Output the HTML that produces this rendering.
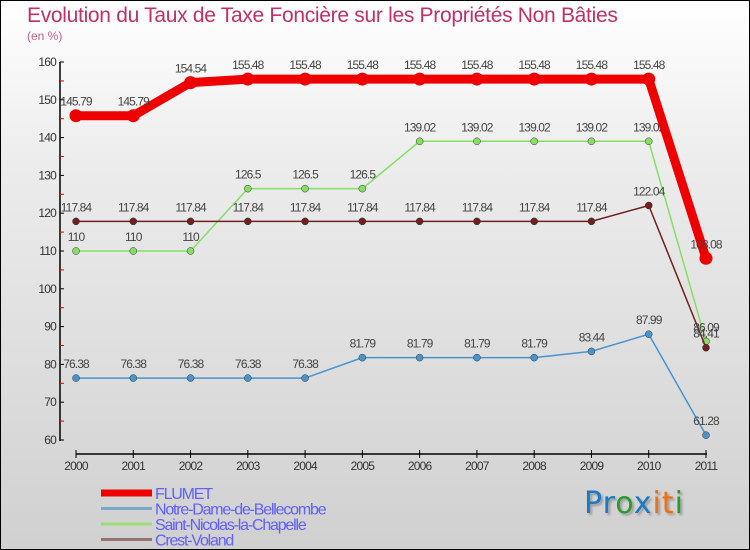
<!DOCTYPE html>
<html><head><meta charset="utf-8"><style>
body{margin:0}
#wrap{position:relative;width:748px;height:548px;border:1px solid #000;background:linear-gradient(#fff 0%,#ececec 30%,#d0d0d0 100%);font-family:"Liberation Sans",sans-serif;overflow:hidden}
.t{position:absolute;color:#c0306a}
</style></head><body>
<div id="wrap">
<div class="t" style="left:26px;top:3px;font-size:21px;letter-spacing:-0.3px">Evolution du Taux de Taxe Foncière sur les Propriétés Non Bâties</div>
<div class="t" style="left:26px;top:28px;font-size:12px;color:#c06090">(en %)</div>
<svg id="chart" width="748" height="548" style="position:absolute;left:0;top:0"></svg>
<div style="position:absolute;left:583px;top:485px;font-size:30px;font-family:'DejaVu Sans',sans-serif;letter-spacing:1px;text-shadow:2px 2px 2px #999"><span style="color:#1a7ac8">Pr</span><span style="color:#2a9a30">o</span><span style="color:#1a7ac8">x</span><span style="color:#f07010">it</span><span style="color:#2a9a30">i</span></div>
</div>
<script>
const years=[2000,2001,2002,2003,2004,2005,2006,2007,2008,2009,2010,2011];
const yTicks=[60,70,80,90,100,110,120,130,140,150,160];
const flumet=[145.79,145.79,154.54,155.48,155.48,155.48,155.48,155.48,155.48,155.48,155.48,108.08];
const notreDame=[76.38,76.38,76.38,76.38,76.38,81.79,81.79,81.79,81.79,83.44,87.99,61.28];
const saintNicolas=[110,110,110,126.5,126.5,126.5,139.02,139.02,139.02,139.02,139.02,86.09];
const crestVoland=[117.84,117.84,117.84,117.84,117.84,117.84,117.84,117.84,117.84,117.84,122.04,84.41];
const seriesNames=["FLUMET","Notre-Dame-de-Bellecombe","Saint-Nicolas-la-Chapelle","Crest-Voland"];
const svg=document.getElementById('chart');const NS='http://www.w3.org/2000/svg';
function x(i){return 75+i*(630/11);}
function y(v){return 439-(v-60)*(378/100);}
function mk(t,a,p){const e=document.createElementNS(NS,t);for(const k in a)e.setAttribute(k,a[k]);(p||svg).appendChild(e);return e;}
// axes
let e=mk('line',{x1:59,y1:61,x2:59,y2:440,stroke:'#000','stroke-width':1.5});


e=mk('line',{x1:75,y1:453,x2:706,y2:453,stroke:'#000','stroke-width':1.5});


yTicks.forEach(v=>{
 const t=mk('text',{x:55,y:y(v)+4,'text-anchor':'end','font-size':12,fill:'#333','letter-spacing':'-0.8'});t.textContent=v;
 
 
 mk('line',{x1:59,y1:y(v),x2:63,y2:y(v),stroke:'#000'});
 if(v<160)mk('line',{x1:59,y1:y(v+5),x2:63,y2:y(v+5),stroke:'#d00'});
});
years.forEach((yr,i)=>{
 mk('line',{x1:x(i),y1:449,x2:x(i),y2:457,stroke:'#000'});
 const t=mk('text',{x:x(i),y:469,'text-anchor':'middle','font-size':12,fill:'#333','letter-spacing':'-0.8'});t.textContent=yr;
 
 
});
function series(data,color,w,r,name){
 const g=mk('g',{});
 
 
 mk('polyline',{points:data.map((v,i)=>x(i)+','+y(v)).join(' '),fill:'none',stroke:color,'stroke-width':w,'stroke-linejoin':'round'},g);
 data.forEach((v,i)=>{
  const c=mk('circle',{cx:x(i),cy:y(v),r:r,fill:color,stroke:w>3?'none':'#333','stroke-width':0.5},g);
  
  
  const t=mk('text',{x:x(i),y:y(v)-10,'text-anchor':'middle','font-size':12,fill:'#444','letter-spacing':'-0.9'},g);t.textContent=v;
  
  
 });
}
series(notreDame,'#4a94cc',1.5,3.5,'series-notre-dame');
series(saintNicolas,'#88dd66',1.5,3.5,'series-saint-nicolas');
series(crestVoland,'#702020',1.5,3.5,'series-crest-voland');
series(flumet,'#ee0000',9,6.5,'series-flumet');
const legColors=['#ee0000','#7aa8cc','#99dd77','#997070'];const legW=[7,3,3,3];
seriesNames.forEach((n,i)=>{
 const yy=492+i*15.5;
 const r=mk('rect',{x:100,y:yy-legW[i]/2,width:51,height:legW[i],fill:legColors[i]});
 
 
 const t=mk('text',{x:154,y:yy+6,'font-size':16,fill:'#6060ff','letter-spacing':'-1.2'});t.textContent=n;
 
 
});
</script>
</body></html>
